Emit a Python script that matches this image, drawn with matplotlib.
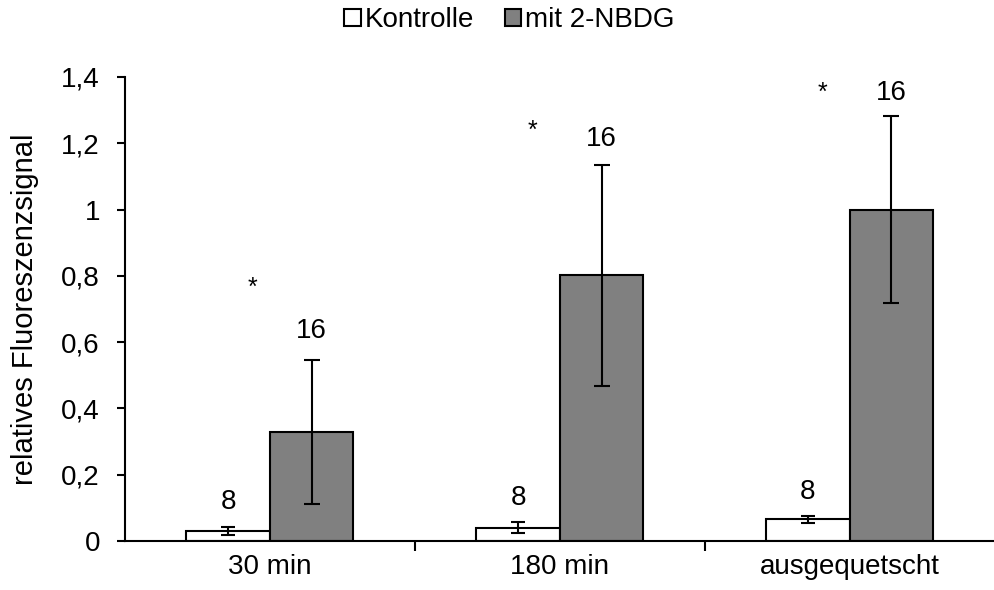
import matplotlib
matplotlib.use("Agg")
from matplotlib import pyplot as plt
from matplotlib.patches import Patch
import numpy as np

plt.rcParams['font.family'] = ['Liberation Sans', 'DejaVu Sans']

categories = ['30 min', '180 min', 'ausgequetscht']
kontrolle = [0.03, 0.04, 0.065]
kontrolle_err = [0.012, 0.016, 0.01]
nbdg = [0.328, 0.802, 1.0]
nbdg_err = [0.217, 0.333, 0.283]
n_kontrolle = ['8', '8', '8']
n_nbdg = ['16', '16', '16']
star_x = [-0.06, 0.905, 1.905]
star_y = [0.765, 1.238, 1.352]
label8_y = [0.118, 0.13, 0.148]
label16_y = [0.633, 1.214, 1.352]

x = np.arange(len(categories))
w = 0.288

fig = plt.figure(figsize=(9.95, 5.9), dpi=100)
ax = fig.add_axes([0.1256, 0.083, 0.874, 0.7865])

ax.bar(x - w/2, kontrolle, w, color='white', edgecolor='black', linewidth=1.5,
       yerr=kontrolle_err, capsize=5, error_kw=dict(elinewidth=1.5, capthick=1.5), zorder=2)
ax.bar(x + w/2, nbdg, w, color='#808080', edgecolor='black', linewidth=1.5,
       yerr=nbdg_err, capsize=6, error_kw=dict(elinewidth=1.5, capthick=1.5), zorder=2)

for i in range(len(categories)):
    ax.text(x[i] - w/2, label8_y[i], n_kontrolle[i], ha='center', va='center', fontsize=20)
    ax.text(x[i] + w/2, label16_y[i], n_nbdg[i], ha='center', va='center', fontsize=20)
    ax.text(star_x[i], star_y[i], '*', ha='center', va='center', fontsize=18)

ax.set_xlim(-0.5, 2.5)
ax.set_ylim(0, 1.4)
ax.set_yticks(np.arange(0, 1.41, 0.2))
ax.set_yticklabels(['0', '0,2', '0,4', '0,6', '0,8', '1', '1,2', '1,4'], fontsize=20)
ax.set_xticks(x)
ax.set_xticklabels(categories, fontsize=20)
ax.set_xticks([0.5, 1.5], minor=True)
ax.tick_params(axis='x', which='major', length=0, pad=9)
ax.tick_params(axis='x', which='minor', length=7, width=1.5, direction='out')
ax.tick_params(axis='y', length=6, width=1.5, direction='out', pad=12)
ax.set_ylabel('relatives Fluoreszenzsignal', fontsize=21, labelpad=16)

for s in ['top', 'right']:
    ax.spines[s].set_visible(False)
ax.spines['left'].set_linewidth(1.5)
ax.spines['bottom'].set_linewidth(1.5)

handles = [Patch(facecolor='white', edgecolor='black', linewidth=1.5, label='Kontrolle'),
           Patch(facecolor='#808080', edgecolor='black', linewidth=1.5, label='mit 2-NBDG')]
fig.legend(handles=handles, loc='upper center', bbox_to_anchor=(0.512, 1.03), ncol=2,
           frameon=False, fontsize=20, handlelength=0.6, handleheight=0.6,
           handletextpad=0.15, columnspacing=1.1)

fig.savefig('out.png', dpi=100)
